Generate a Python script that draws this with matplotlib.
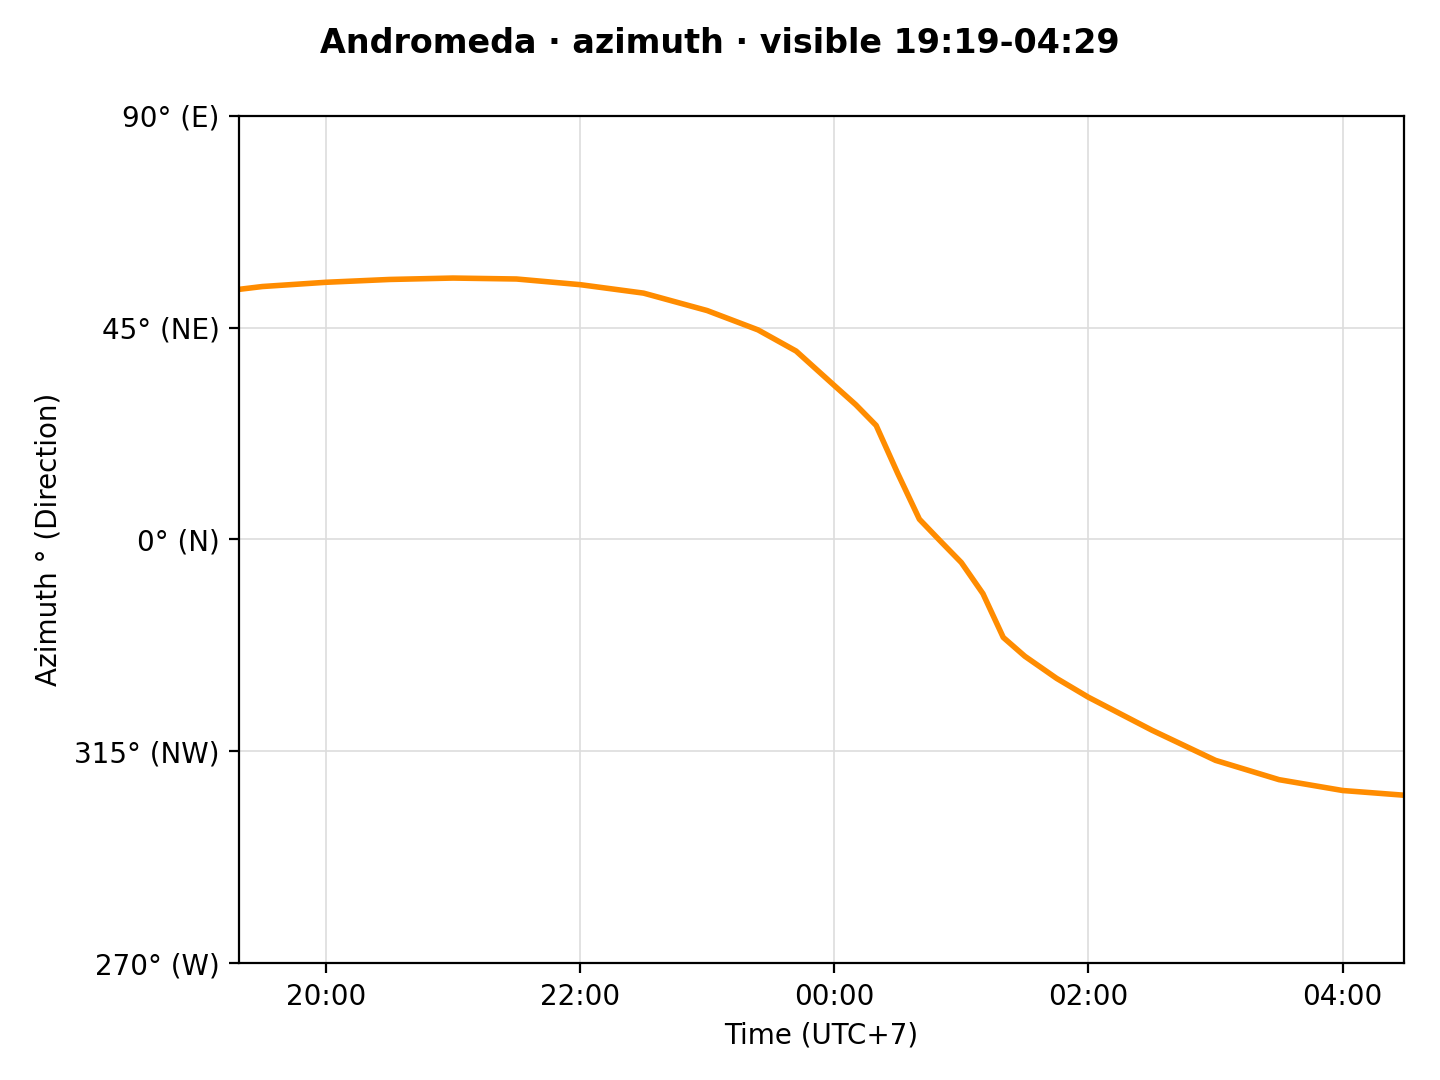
import matplotlib
matplotlib.use("Agg")
import matplotlib.pyplot as plt

# time in hours after midnight of the first evening (values >24 = next day)
hours = [19.317, 19.5, 20.0, 20.5, 21.0, 21.5, 22.0, 22.5, 23.0, 23.4, 23.7, 24.0,
         24.17, 24.33, 24.5, 24.67, 24.83, 25.0, 25.17, 25.33, 25.5, 25.75, 26.0,
         26.5, 27.0, 27.5, 28.0, 28.483]
azimuth = [53.1, 53.7, 54.6, 55.2, 55.5, 55.3, 54.1, 52.3, 48.6, 44.5, 40.0, 32.7,
           28.6, 24.2, 14.0, 4.3, -0.2, -4.9, -11.5, -20.8, -24.8, -29.5, -33.5,
           -40.5, -46.9, -51.0, -53.3, -54.3]
xtick_pos = [20, 22, 24, 26, 28]
xtick_labels = ["20:00", "22:00", "00:00", "02:00", "04:00"]
ytick_pos = [-90, -45, 0, 45, 90]
ytick_labels = ["270° (W)", "315° (NW)", "0° (N)", "45° (NE)", "90° (E)"]

fig, ax = plt.subplots(figsize=(7.2, 5.4), dpi=200)
fig.subplots_adjust(left=0.166, right=0.975, top=0.893, bottom=0.108)
ax.plot(hours, azimuth, color="#ff8c00", linewidth=2)
ax.set_xlim(hours[0], hours[-1])
ax.set_ylim(-90, 90)
ax.set_xticks(xtick_pos)
ax.set_xticklabels(xtick_labels)
ax.set_yticks(ytick_pos)
ax.set_yticklabels(ytick_labels)
ax.grid(True, color="#dddddd", linewidth=0.6)
ax.set_xlabel("Time (UTC+7)")
ax.set_ylabel("Azimuth ° (Direction)")
fig.suptitle("Andromeda · azimuth · visible 19:19-04:29", fontweight="bold", fontsize=12, y=0.975)
fig.savefig("out.png")
